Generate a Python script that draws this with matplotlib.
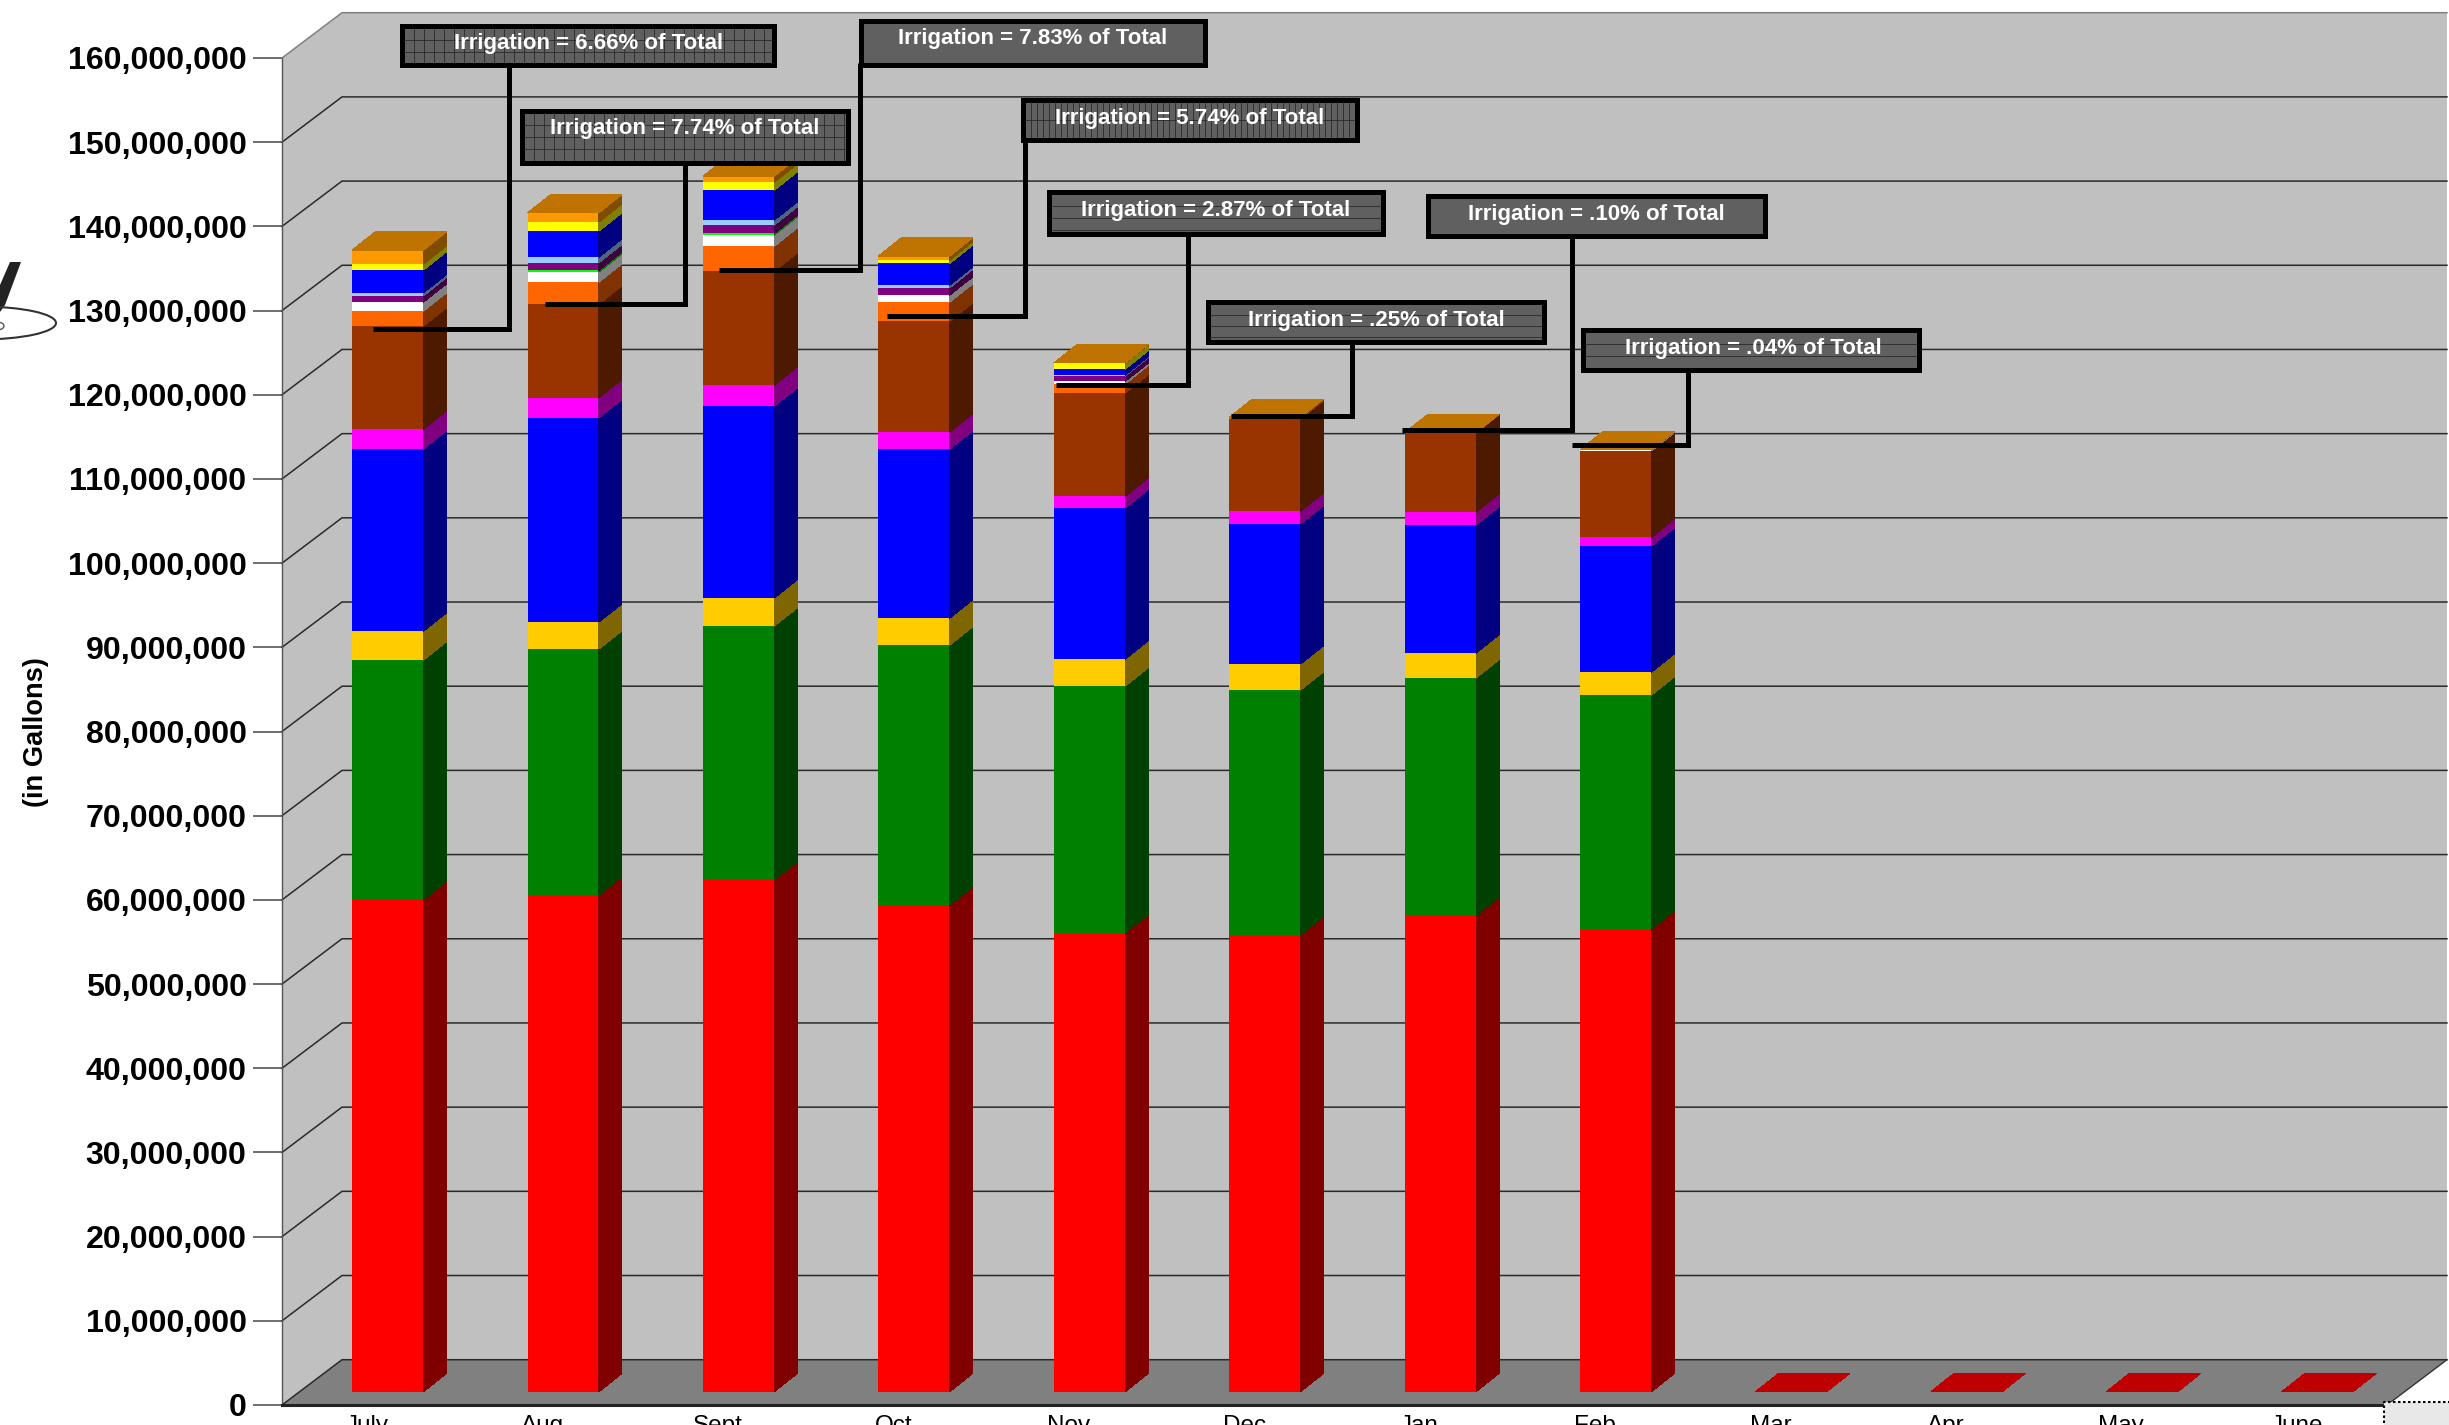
import numpy as np
import matplotlib
matplotlib.use("Agg")
import matplotlib.pyplot as plt
from matplotlib.colors import to_rgb
from matplotlib.patches import Polygon, Rectangle, Ellipse

plt.rcParams['font.family'] = ['Liberation Sans', 'DejaVu Sans']

months = ['July', 'Aug', 'Sept', 'Oct', 'Nov', 'Dec', 'Jan', 'Feb', 'Mar', 'Apr', 'May', 'June']
y_ticks = np.arange(0, 170000000, 10000000)

# stacked series, bottom to top (gallons)
red_vals = [58430000, 58990000, 60810000, 57800000, 54480000, 54240000, 56530000, 54950000, 0, 0, 0, 0]
green_vals = [28470000, 29220000, 30130000, 30880000, 29330000, 29100000, 28230000, 27790000, 0, 0, 0, 0]
gold_vals = [3440000, 3210000, 3330000, 3210000, 3210000, 3090000, 2970000, 2730000, 0, 0, 0, 0]
blue_vals = [21620000, 24260000, 22800000, 20070000, 17930000, 16630000, 15200000, 14960000, 0, 0, 0, 0]
magenta_vals = [2380000, 2380000, 2490000, 2050000, 1430000, 1540000, 1540000, 1070000, 0, 0, 0, 0]
brown_vals = [12230000, 11130000, 13540000, 13150000, 12230000, 10930000, 9420000, 10250000, 0, 0, 0, 0]
orange_vals = [1780000, 2610000, 2970000, 2260000, 1100000, 180000, 0, 0, 0, 0, 0, 0]
white_vals = [1070000, 1190000, 1310000, 830000, 290000, 0, 0, 120000, 0, 0, 0, 0]
lime_vals = [0, 200000, 200000, 0, 0, 0, 0, 0, 0, 0, 0, 0]
purple_vals = [750000, 900000, 990000, 870000, 630000, 0, 0, 0, 0, 0, 0, 0]
ltblue_vals = [360000, 680000, 590000, 320000, 120000, 0, 0, 0, 0, 0, 0, 0]
blue2_vals = [2700000, 3090000, 3560000, 2580000, 710000, 0, 0, 0, 0, 0, 0, 0]
yellow_vals = [710000, 1070000, 950000, 390000, 680000, 0, 0, 0, 0, 0, 0, 0]
amber_vals = [1660000, 1100000, 710000, 480000, 60000, 20000, 20000, 20000, 0, 0, 0, 0]

series = [red_vals, green_vals, gold_vals, blue_vals, magenta_vals, brown_vals, orange_vals,
          white_vals, lime_vals, purple_vals, ltblue_vals, blue2_vals, yellow_vals, amber_vals]
colors = ['#ff0000', '#008000', '#ffcc00', '#0000ff', '#ff00ff', '#993300', '#ff6600',
          '#ffffff', '#00ff00', '#800080', '#99ccff', '#0000ff', '#ffff00', '#ff9900']

callout_labels = ['Irrigation = 6.66% of Total', 'Irrigation = 7.74% of Total', 'Irrigation = 7.83% of Total',
                  'Irrigation = 5.74% of Total', 'Irrigation = 2.87% of Total', 'Irrigation = .25% of Total',
                  'Irrigation = .10% of Total', 'Irrigation = .04% of Total']

W, H = 2449, 1425
PX_X = 2105 / 12          # pixels per category
PX_V = 1347 / 160000000   # pixels per gallon

# chart box depth, and where the bars sit inside it
WALL_DX = 60 / PX_X
WALL_DV = 45.3 / PX_V
BAR_DX = 23 / PX_X
BAR_DV = 18.3 / PX_V
BAR_LEFT = 0.40
BAR_W = 0.407
BASE_V = 13.3 / PX_V


def shade(color, k):
    return tuple(c * k for c in to_rgb(color))


fig = plt.figure(figsize=(W / 100, H / 100), dpi=100, facecolor='white')
ax = fig.add_axes([282 / W, (H - 1405) / H, 2105 / W, 1347 / H])
ax.set_xlim(0, 12)
ax.set_ylim(0, 160000000)
ax.patch.set_visible(False)
for s in ax.spines.values():
    s.set_visible(False)

# walls and floor
ax.add_patch(Polygon([(0, 0), (WALL_DX, WALL_DV), (12 + WALL_DX, WALL_DV), (12 + WALL_DX, 160000000 + WALL_DV),
                      (WALL_DX, 160000000 + WALL_DV), (0, 160000000)],
                     fc='#c0c0c0', ec='none', clip_on=False, zorder=0))
ax.add_patch(Polygon([(0, 0), (12, 0), (12 + WALL_DX, WALL_DV), (WALL_DX, WALL_DV)],
                     fc='#808080', ec='none', clip_on=False, zorder=1))
for v in y_ticks:
    c = '#808080' if v == 160000000 else '#2a2a2a'
    ax.plot([0, WALL_DX, 12 + WALL_DX], [v, v + WALL_DV, v + WALL_DV], color=c, lw=1.1,
            clip_on=False, zorder=2, solid_joinstyle='miter')
ax.plot([0, 0], [0, 160000000], color='#555555', lw=1.0, clip_on=False, zorder=2)
ax.plot([0, 12], [0, 0], color='#222222', lw=2.2, clip_on=False, zorder=2)
ax.plot([12, 12 + WALL_DX], [0, WALL_DV], color='#333333', lw=1.0, clip_on=False, zorder=2)

# stacked 3d bars
for i in range(len(months)):
    x0 = i + BAR_LEFT
    x1 = x0 + BAR_W
    cum = BASE_V
    top_color = colors[0]
    for vals, color in zip(series, colors):
        v = vals[i]
        if v <= 0:
            continue
        ax.bar(x0, v, width=BAR_W, bottom=cum, align='edge', color=color, linewidth=0,
               antialiased=False, clip_on=False, zorder=3)
        ax.add_patch(Polygon([(x1, cum), (x1 + BAR_DX, cum + BAR_DV), (x1 + BAR_DX, cum + v + BAR_DV), (x1, cum + v)],
                             fc=shade(color, 0.5), ec='none', antialiased=False, clip_on=False, zorder=3))
        cum += v
        top_color = color
    ax.add_patch(Polygon([(x0, cum), (x1, cum), (x1 + BAR_DX, cum + BAR_DV), (x0 + BAR_DX, cum + BAR_DV)],
                         fc=shade(top_color, 0.75), ec='none', antialiased=False, clip_on=False, zorder=3))

ax.set_yticks(y_ticks)
ax.set_yticklabels([f'{v:,}' for v in y_ticks], fontsize=23.1, fontweight='bold')
ax.tick_params(axis='y', length=20.9, width=1.2, color='#555555', pad=4.6)
ax.set_xticks(np.arange(12) + 0.485)
ax.set_xticklabels(months, fontsize=17.5)
ax.tick_params(axis='x', length=0, pad=7.2)
ax.set_ylabel('(in Gallons)', fontsize=19.6, fontweight='bold', va='center')
ax.yaxis.set_label_coords((36.5 - 282) / 2105, (1405 - 731.6) / 1347)

# overlay in image pixels for callouts, logo scrap and corner box
ov = fig.add_axes([0, 0, 1, 1], zorder=5)
ov.set_xlim(0, W)
ov.set_ylim(H, 0)
ov.axis('off')

# box (x0, y0, x1, y1), text centre, leader (x, y_start, y_end, x_end), line spacing (x, y)
box_xy = [(399, 23, 776, 67), (519, 108, 850, 165), (858, 18, 1207, 67), (1020, 97, 1359, 142),
          (1046, 189, 1385, 236), (1205, 299, 1546, 344), (1425, 193, 1767, 238), (1580, 327, 1921, 372)]
text_xy = [(589, 43.2), (685, 128.2), (1033, 38.8), (1190, 118.2), (1216, 210.5), (1376, 320.5), (1596, 214.2), (1753, 348.2)]
leader_xy = [(508.6, 67, 329, 373), (685.4, 165, 303.7, 545), (860, 63, 270.3, 719), (1025, 142, 316.3, 887),
             (1188.4, 236, 385, 1056), (1351.7, 344, 416.3, 1231), (1572.3, 238, 430.3, 1402), (1687.8, 372, 445.3, 1571.7)]
hatch_step = [(10, 12), (10, 12), (0, 0), (6, 18), (0, 12), (0, 11), (0, 0), (0, 12)]

for label, (bx0, by0, bx1, by1), (tx, ty), (lx, ly0, ly1, lx1), (sx, sy) in zip(
        callout_labels, box_xy, text_xy, leader_xy, hatch_step):
    ov.plot([lx, lx, lx1], [ly0, ly1, ly1], color='black', lw=3.6, solid_joinstyle='miter',
            solid_capstyle='butt', zorder=2)
    ov.add_patch(Rectangle((bx0 + 2.5, by0 + 2.5), bx1 - bx0 - 5, by1 - by0 - 5, fc='#606060', ec='black',
                           lw=3.6, joinstyle='miter', zorder=3))
    if sx:
        for gx in np.arange(bx0 + 5 + sx, bx1 - 5, sx):
            ov.plot([gx, gx], [by0 + 5, by1 - 5], color='#2a2a2a', lw=0.6, zorder=4)
    if sy:
        for gy in np.arange(by0 + 5 + sy, by1 - 5, sy):
            ov.plot([bx0 + 5, bx1 - 5], [gy, gy], color='#2a2a2a', lw=0.6, zorder=4)
    ov.text(tx, ty, label, color='white', fontsize=16.0, fontweight='bold', ha='center', va='center', zorder=5)

# bit of logo cut off at the left edge
ov.add_patch(Polygon([(10, 262), (21, 262), (5, 305), (0, 312), (0, 285)], fc='#222222', ec='none'))
ov.add_patch(Ellipse((-20, 323), 152, 33, fc='none', ec='#333333', lw=1.5))
ov.add_patch(Ellipse((-3, 326), 14, 8, fc='none', ec='#555555', lw=1.0))

# dotted selection box, bottom right corner
ov.add_patch(Rectangle((2383.5, 1401.5), 70, 30, fc='#e8e8e8', ec='none', zorder=6))
ov.plot([2383.5, 2383.5, W], [H - 2, 1401.5, 1401.5], color='black', lw=1.5, ls=(0, (1.2, 1.2)), zorder=7)

fig.savefig('out.png', dpi=100)
